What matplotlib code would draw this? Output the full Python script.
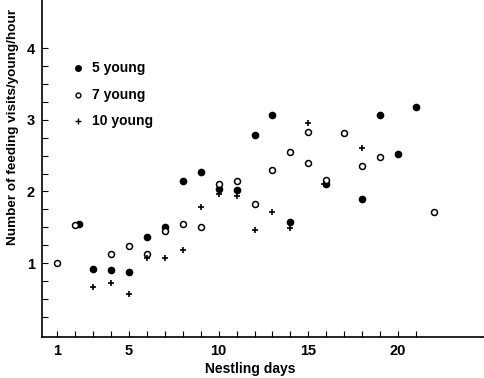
import matplotlib
matplotlib.use("Agg")
import matplotlib.pyplot as plt

plt.rcParams['font.family'] = ['Liberation Sans', 'DejaVu Sans']

# 5 young (filled circles)
days_5 = [2.2, 3, 4, 5, 6, 7, 8, 9, 10, 11, 12, 13, 14, 16, 18, 19, 20, 21]
visits_5 = [1.54, 0.92, 0.90, 0.87, 1.36, 1.51, 2.15, 2.27, 2.03, 2.02,
            2.79, 3.06, 1.57, 2.11, 1.90, 3.06, 2.52, 3.18]

# 7 young (open circles)
days_7 = [1, 2, 4, 5, 6, 7, 8, 9, 10, 11, 12, 13, 14, 15, 15, 16, 17, 18, 19, 22]
visits_7 = [1.00, 1.53, 1.13, 1.24, 1.13, 1.45, 1.55, 1.51, 2.10, 2.14,
            1.82, 2.30, 2.55, 2.83, 2.40, 2.16, 2.82, 2.36, 2.48, 1.71]

# 10 young (plus signs)
days_10 = [3, 4, 5, 6, 7, 8, 9, 10, 11, 12, 13, 14, 15, 15.9, 18]
visits_10 = [0.67, 0.73, 0.57, 1.07, 1.07, 1.18, 1.78, 1.96, 1.94, 1.46,
             1.72, 1.49, 2.95, 2.10, 2.60]

x_ticklabels = [1, 5, 10, 15, 20]
y_ticklabels = [1, 2, 3, 4]

fig = plt.figure(figsize=(4.85, 3.78), dpi=100)
ax = fig.add_axes([42 / 485, 41 / 378, 443 / 485, 337 / 378])

ax.plot(days_5, visits_5, 'o', color='black', markersize=4.5, linestyle='none')
ax.plot(days_7, visits_7, 'o', markerfacecolor='white', markeredgecolor='black',
        markeredgewidth=1.1, markersize=4.3, linestyle='none')
ax.plot(days_10, visits_10, '+', color='black', markeredgewidth=1.2,
        markersize=4.5, linestyle='none')

ax.set_xlim(0.15, 24.85)
ax.set_ylim(-0.03, 4.67)

ax.set_xticks(x_ticklabels)
ax.set_xticklabels([str(v) for v in x_ticklabels])
ax.set_xticks(list(range(1, 22)), minor=True)
ax.set_yticks(y_ticklabels)
ax.set_yticklabels([str(v) for v in y_ticklabels])
ax.set_yticks([i * 0.25 for i in range(1, 17)], minor=True)

ax.tick_params(which='both', direction='in', length=4, width=0.8)
ax.tick_params(axis='both', labelsize=10.5, pad=5)
for lab in ax.get_xticklabels() + ax.get_yticklabels():
    lab.set_fontweight('bold')

for s in ['top', 'right']:
    ax.spines[s].set_visible(False)
ax.spines['left'].set_linewidth(1.2)
ax.spines['bottom'].set_linewidth(1.2)

ax.set_xlabel('Nestling days', fontsize=10, fontweight='bold', labelpad=1)
ax.xaxis.set_label_coords(0.47, -0.075)
ax.set_ylabel('Number of feeding visits/young/hour', fontsize=9.7,
              fontweight='bold')
ax.yaxis.set_label_coords(-0.053, 0.623)

# legend drawn as markers + text
leg_y = [3.72, 3.35, 2.98]
ax.plot([2.15], [leg_y[0]], 'o', color='black', markersize=4)
ax.plot([2.15], [leg_y[1]], 'o', markerfacecolor='white', markeredgecolor='black',
        markeredgewidth=1.0, markersize=3.5)
ax.plot([2.15], [leg_y[2]], '+', color='black', markeredgewidth=1.0, markersize=4)
for yy, txt in zip(leg_y, ['5 young', '7 young', '10 young']):
    ax.text(2.95, yy, txt, fontsize=10, fontweight='bold', va='center', ha='left')

fig.savefig('out.png', dpi=100)
